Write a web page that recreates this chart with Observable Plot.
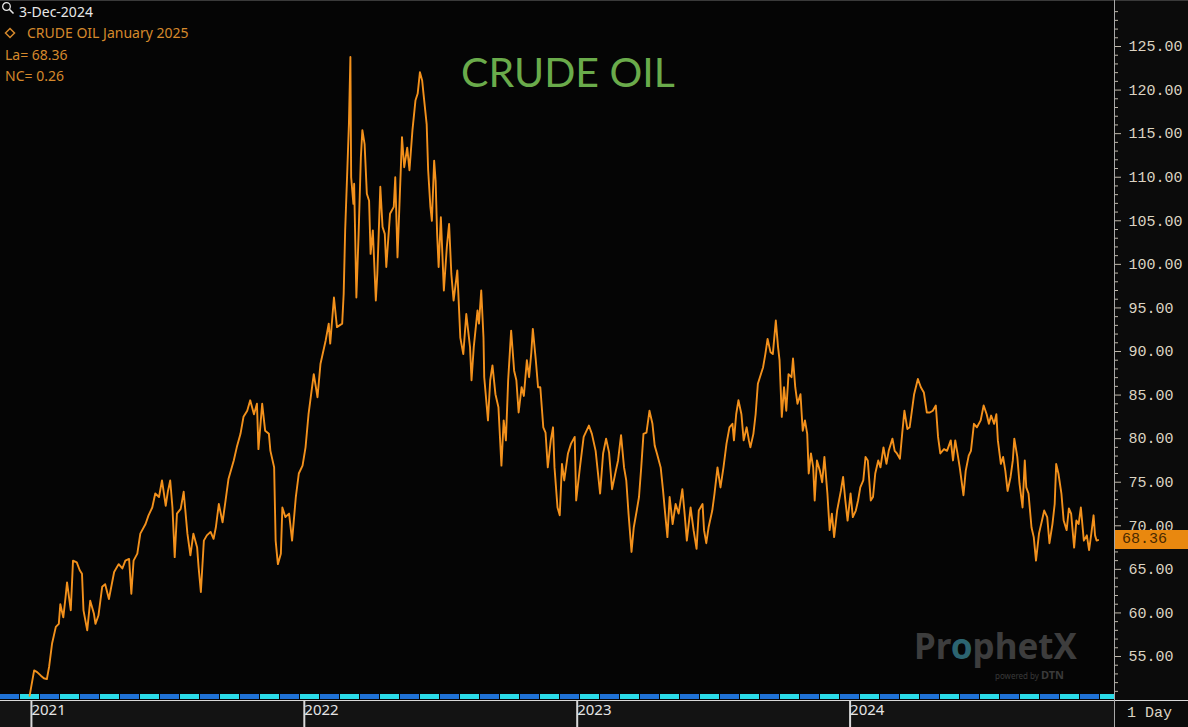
<!DOCTYPE html>
<html>
<head>
<meta charset="utf-8">
<script src="https://cdn.jsdelivr.net/npm/d3@7"></script>
<script src="https://cdn.jsdelivr.net/npm/@observablehq/plot@0.6"></script>
<style>
html,body{margin:0;padding:0;background:#000;overflow:hidden}
#wrap{position:relative;width:1188px;height:727px;background:#000;overflow:hidden}
.abs{position:absolute;white-space:nowrap}
.leg{font-family:"Noto Sans",sans-serif;font-size:14px;line-height:21px;color:#d6892c}
.mono{font-family:"Liberation Mono",monospace;font-size:15px}
</style>
</head>
<body>
<div id="wrap">
  <div class="abs" style="left:0;top:0;width:1114px;height:700px;background:#050505"></div>
  <div class="abs" style="left:0;top:701px;width:1114px;height:26px;background:#131313"></div>
  <div class="abs" style="left:1115px;top:0;width:73px;height:727px;background:#0b0b0b"></div>
  <div class="abs" style="left:0;top:0;width:1188px;height:1px;background:#3a3a3a"></div>
  <div class="abs" style="left:0;top:694px;width:1114px;height:5px;background:repeating-linear-gradient(90deg,#1f72d6 0 19px,#050505 19px 20px,#2adbe8 20px 39px,#050505 39px 40px)"></div>
  <div id="chart" class="abs" style="left:0;top:0"></div>
  <div class="abs" style="left:0;top:700px;width:1188px;height:1px;background:#d8d8d8"></div>
  <div class="abs" style="left:1114px;top:0;width:1px;height:727px;background:#a8a8a8"></div>

  <svg class="abs" style="left:1px;top:1px" width="14" height="14" viewBox="0 0 14 14">
    <circle cx="5.5" cy="5.5" r="3.8" fill="none" stroke="#e6e6e6" stroke-width="1.3"/>
    <line x1="8.3" y1="8.3" x2="12.5" y2="12.5" stroke="#e6e6e6" stroke-width="1.6"/>
  </svg>
  <div id="legDate" class="abs leg" style="left:19px;top:1px;color:#e8e8e8"></div>
  <svg class="abs" style="left:4px;top:27px" width="12" height="12" viewBox="0 0 12 12">
    <path d="M6 1.5 L10.5 6 L6 10.5 L1.5 6 Z" fill="none" stroke="#d6892c" stroke-width="1.5"/>
  </svg>
  <div id="legName" class="abs leg" style="left:27px;top:22px"></div>
  <div id="legLa" class="abs leg" style="left:5px;top:44px"></div>
  <div id="legNc" class="abs leg" style="left:5px;top:65px"></div>

  <div id="title" class="abs" style="left:0;width:1136px;top:51px;text-align:center;font-family:Lato,sans-serif;font-size:41px;line-height:41px;color:#6aab4b"></div>

  <div class="abs" style="left:914px;top:632px;font-family:'Noto Sans',sans-serif;font-weight:bold;font-size:35px;line-height:28px;color:#3d3d3d">Pr<span style="color:#2c6470">o</span>phetX</div>
  <div class="abs" style="left:995px;top:669px;font-family:'Noto Sans',sans-serif;font-size:8px;line-height:11px;color:#3a3a3a">powered by <span style="font-weight:bold;font-size:11px">DTN</span></div>

  <div id="lastBox" class="abs mono" style="left:1115px;width:73px;height:19px;line-height:19px;background:#e9880f;color:#4a2a00;padding-left:7px;box-sizing:border-box"></div>
  <div class="abs mono" style="left:1127px;top:704px;line-height:20px;color:#dcd4c4">1 Day</div>
</div>

<script>
// ---- Data ----
const dates2021 = ["2021-01-04","2021-01-10","2021-01-14","2021-01-19","2021-01-23","2021-01-27","2021-01-30","2021-02-03","2021-02-08","2021-02-12","2021-02-14","2021-02-18","2021-02-21","2021-02-23","2021-02-28","2021-03-03","2021-03-08","2021-03-12","2021-03-15","2021-03-17","2021-03-22","2021-03-26","2021-03-31","2021-04-02","2021-04-06","2021-04-11","2021-04-15","2021-04-20","2021-04-27","2021-05-03","2021-05-08","2021-05-12","2021-05-17","2021-05-20","2021-05-23","2021-05-28","2021-06-01","2021-06-08","2021-06-12","2021-06-17","2021-06-21","2021-06-26","2021-06-30","2021-07-05","2021-07-08","2021-07-11","2021-07-14","2021-07-17","2021-07-20","2021-07-25","2021-07-29","2021-08-03","2021-08-07","2021-08-11","2021-08-16","2021-08-18","2021-08-21","2021-08-25","2021-08-29","2021-09-03","2021-09-07","2021-09-10","2021-09-14","2021-09-19","2021-09-23","2021-09-27","2021-10-04","2021-10-08","2021-10-13","2021-10-17","2021-10-22","2021-10-26","2021-10-31","2021-11-04","2021-11-06","2021-11-11","2021-11-15","2021-11-20","2021-11-22","2021-11-27","2021-11-29","2021-12-02","2021-12-06","2021-12-08","2021-12-12","2021-12-17","2021-12-21","2021-12-26","2021-12-30"];
const prices2021 = [50.5,53.4,53.2,52.8,52.5,52.4,53.8,56.5,58.4,58.75,61.0,59.5,61.8,63.5,60.3,66.0,65.8,64.9,64.5,60.3,58.0,61.4,59.9,58.75,59.7,63.0,63.3,61.6,64.7,65.6,65.1,66.0,66.2,62.2,66.0,66.8,69.1,70.2,71.2,72.1,73.7,73.3,75.2,72.3,74.0,75.2,72.1,66.4,71.4,71.95,73.9,69.1,66.6,69.1,67.5,65.2,62.4,68.3,68.9,69.3,68.5,69.8,72.5,70.4,72.9,75.4,77.5,79.0,80.55,82.5,83.2,84.4,82.8,84.0,78.8,84.0,80.9,80.55,78.6,76.7,68.3,65.6,66.8,72.1,71.0,71.4,68.3,73.3,76.0];

const dates2022 = ["2022-01-04","2022-01-08","2022-01-12","2022-01-19","2022-01-24","2022-01-28","2022-02-04","2022-02-08","2022-02-10","2022-02-15","2022-02-19","2022-02-26","2022-02-28","2022-03-02","2022-03-05","2022-03-07","2022-03-09","2022-03-10","2022-03-13","2022-03-14","2022-03-17","2022-03-20","2022-03-23","2022-03-25","2022-03-28","2022-03-31","2022-04-03","2022-04-05","2022-04-08","2022-04-12","2022-04-14","2022-04-18","2022-04-21","2022-04-24","2022-04-26","2022-05-01","2022-05-06","2022-05-08","2022-05-11","2022-05-14","2022-05-17","2022-05-20","2022-05-24","2022-05-27","2022-05-31","2022-06-04","2022-06-07","2022-06-10","2022-06-13","2022-06-15","2022-06-19","2022-06-21","2022-06-24","2022-06-26","2022-06-29","2022-07-01","2022-07-03","2022-07-05","2022-07-08","2022-07-12","2022-07-16","2022-07-19","2022-07-22","2022-07-25","2022-07-30","2022-08-03","2022-08-07","2022-08-11","2022-08-16","2022-08-18","2022-08-21","2022-08-26","2022-08-28","2022-08-31","2022-09-03","2022-09-04","2022-09-09","2022-09-12","2022-09-15","2022-09-19","2022-09-23","2022-09-27","2022-09-30","2022-10-03","2022-10-06","2022-10-10","2022-10-14","2022-10-17","2022-10-20","2022-10-24","2022-10-27","2022-10-31","2022-11-03","2022-11-06","2022-11-08","2022-11-12","2022-11-15","2022-11-18","2022-11-22","2022-11-25","2022-11-28","2022-12-02","2022-12-05","2022-12-07","2022-12-11","2022-12-14","2022-12-17","2022-12-20","2022-12-25","2022-12-29"];
const prices2022 = [76.9,79.0,82.8,87.4,84.75,88.6,91.3,93.2,90.9,96.2,92.8,93.2,96.6,103.9,111.15,116.1,123.8,110.0,106.95,109.25,96.2,103.5,112.3,115.4,113.8,108.1,107.3,101.2,103.9,95.85,98.9,108.9,104.3,103.5,99.7,105.8,106.6,110.0,100.8,107.7,114.6,111.15,113.4,110.8,115.4,118.8,119.6,122.05,121.1,119.4,116.1,110.8,106.6,105.0,111.9,109.6,103.5,99.7,105.4,97.0,102.0,104.65,98.9,95.85,99.3,91.6,89.7,94.3,90.5,86.7,90.5,94.7,93.2,97.0,91.6,87.05,82.1,86.7,88.4,85.1,83.6,76.9,82.1,79.8,86.7,92.4,87.8,86.7,83.0,85.9,84.9,89.0,87.05,89.9,92.6,89.0,85.9,85.9,81.3,80.7,76.7,79.8,81.3,76.7,72.1,71.2,77.1,75.2,78.3,79.4];

const dates2023 = ["2023-01-03","2023-01-05","2023-01-10","2023-01-15","2023-01-22","2023-01-26","2023-01-31","2023-02-06","2023-02-10","2023-02-14","2023-02-18","2023-02-22","2023-02-27","2023-03-02","2023-03-06","2023-03-10","2023-03-13","2023-03-16","2023-03-20","2023-03-23","2023-03-27","2023-03-30","2023-04-02","2023-04-05","2023-04-09","2023-04-13","2023-04-17","2023-04-20","2023-04-23","2023-04-28","2023-05-01","2023-05-04","2023-05-07","2023-05-10","2023-05-14","2023-05-18","2023-05-22","2023-05-27","2023-05-30","2023-06-02","2023-06-07","2023-06-11","2023-06-15","2023-06-18","2023-06-23","2023-06-25","2023-06-28","2023-07-01","2023-07-06","2023-07-09","2023-07-13","2023-07-17","2023-07-21","2023-07-25","2023-07-29","2023-08-02","2023-08-04","2023-08-07","2023-08-10","2023-08-14","2023-08-17","2023-08-21","2023-08-24","2023-08-26","2023-08-30","2023-09-02","2023-09-05","2023-09-09","2023-09-12","2023-09-15","2023-09-18","2023-09-22","2023-09-25","2023-09-29","2023-10-02","2023-10-04","2023-10-07","2023-10-10","2023-10-13","2023-10-16","2023-10-20","2023-10-22","2023-10-25","2023-10-28","2023-11-01","2023-11-04","2023-11-07","2023-11-10","2023-11-12","2023-11-15","2023-11-18","2023-11-20","2023-11-23","2023-11-27","2023-11-30","2023-12-03","2023-12-07","2023-12-10","2023-12-13","2023-12-16","2023-12-20","2023-12-25","2023-12-28","2023-12-31"];
const prices2023 = [80.2,72.9,76.7,80.2,81.5,80.55,78.6,73.7,78.3,80.0,78.4,74.2,76.3,77.5,80.4,76.7,75.2,71.4,67.0,69.8,71.75,73.3,76.7,80.55,80.7,83.2,81.7,79.2,78.3,76.7,74.2,71.4,68.7,73.3,70.2,72.5,71.4,74.2,71.4,68.3,72.1,69.5,67.35,71.75,72.5,69.5,68.0,69.8,71.75,73.7,76.7,74.4,76.7,79.4,81.3,81.7,79.8,82.8,84.4,82.8,79.8,81.3,79.8,79.0,80.55,82.8,86.3,87.4,88.2,89.7,91.45,89.9,89.7,93.55,90.5,89.0,82.5,85.9,83.2,87.4,87.05,89.2,85.9,84.0,85.1,80.9,82.1,80.55,76.0,78.3,76.7,72.9,77.5,76.3,75.0,77.9,73.7,69.5,71.4,68.7,71.75,74.0,75.6,72.9];

const dates2024 = ["2024-01-03","2024-01-07","2024-01-10","2024-01-14","2024-01-17","2024-01-20","2024-01-24","2024-01-27","2024-01-30","2024-02-03","2024-02-06","2024-02-09","2024-02-13","2024-02-16","2024-02-20","2024-02-24","2024-02-27","2024-03-03","2024-03-06","2024-03-09","2024-03-13","2024-03-16","2024-03-19","2024-03-23","2024-03-26","2024-03-29","2024-04-01","2024-04-06","2024-04-10","2024-04-14","2024-04-18","2024-04-22","2024-04-26","2024-04-30","2024-05-03","2024-05-06","2024-05-11","2024-05-15","2024-05-20","2024-05-23","2024-05-26","2024-05-29","2024-06-01","2024-06-06","2024-06-09","2024-06-13","2024-06-16","2024-06-20","2024-06-24","2024-06-29","2024-07-03","2024-07-07","2024-07-10","2024-07-13","2024-07-17","2024-07-20","2024-07-22","2024-07-26","2024-07-29","2024-08-01","2024-08-04","2024-08-08","2024-08-11","2024-08-13","2024-08-17","2024-08-20","2024-08-24","2024-08-27","2024-08-29","2024-09-01","2024-09-05","2024-09-08","2024-09-11","2024-09-15","2024-09-19","2024-09-22","2024-09-26","2024-09-29","2024-10-03","2024-10-06","2024-10-08","2024-10-11","2024-10-15","2024-10-18","2024-10-22","2024-10-25","2024-10-28","2024-11-01","2024-11-04","2024-11-07","2024-11-10","2024-11-14","2024-11-18","2024-11-21","2024-11-24","2024-11-27","2024-11-29","2024-12-01","2024-12-03"];
const prices2024 = [70.6,73.7,71.0,71.75,72.9,74.4,75.2,77.9,77.5,72.9,73.3,76.0,77.5,76.7,79.0,77.1,78.6,80.0,78.6,78.3,77.7,80.55,83.2,81.1,81.3,83.2,85.1,86.85,85.9,85.3,83.0,83.0,83.2,83.8,80.2,78.3,78.8,78.6,79.8,77.5,79.8,78.3,76.7,73.5,76.3,78.05,78.6,81.7,81.3,82.1,83.8,82.8,81.7,82.65,81.7,82.8,79.8,77.1,77.9,76.3,74.0,75.6,77.5,80.0,77.9,74.8,72.1,77.5,74.4,73.7,69.8,68.7,66.0,69.1,70.6,71.75,71.0,68.0,70.2,72.5,77.1,76.0,73.7,70.6,69.5,72.0,71.4,67.5,70.6,70.2,72.1,68.3,68.9,67.2,69.1,71.2,68.9,68.3,68.36];

const yTickValues = [55,60,65,70,75,80,85,90,95,100,105,110,115,120,125];
const xTickYears = ["2021","2022","2023","2024"];

const titleText = "CRUDE OIL";
const legendDate = "3-Dec-2024";
const legendName = "CRUDE OIL January 2025";
const lastValue = 68.36;
const netChange = 0.26;

// ---- Build ----
const parse = d3.utcParse("%Y-%m-%d");
const series = [
  [dates2021, prices2021], [dates2022, prices2022],
  [dates2023, prices2023], [dates2024, prices2024]
].flatMap(([ds, ps]) => ds.map((d, i) => ({date: parse(d), price: ps[i]})));

const minorTicks = d3.range(51, 131).filter(v => v % 5 !== 0);
const yearTicks = xTickYears.map(y => parse(y + "-01-01"));

const chart = Plot.plot({
  width: 1188,
  height: 727,
  marginLeft: 0,
  marginRight: 74,
  marginTop: 0,
  marginBottom: 27,
  style: {background: "transparent", color: "#d8d8d8", overflow: "visible"},
  x: {type: "utc", domain: [parse("2020-11-26"), parse("2024-12-25")], label: null},
  y: {domain: [49.95, 130.28], label: null},
  marks: [
    Plot.axisY(minorTicks, {anchor: "right", tickSize: 3, tickFormat: () => "", stroke: "#bfb8aa", label: null}),
    Plot.axisY(yTickValues, {
      anchor: "right", tickSize: 6, tickPadding: 8, label: null,
      tickFormat: d => d.toFixed(2),
      fontFamily: "Liberation Mono", fontSize: 15,
      fill: "#dcd3c2", stroke: "#bfb8aa"
    }),
    Plot.axisX(yearTicks, {
      anchor: "bottom", tickSize: 27, tickPadding: -23, dx: 4, label: null,
      textAnchor: "start", tickFormat: d3.utcFormat("%Y"),
      fontFamily: "Noto Sans", fontSize: 15,
      fill: "#e4e4e4", stroke: "#d8d8d8", strokeWidth: 2
    }),
    Plot.lineY(series, {x: "date", y: "price", stroke: "#f3911c", strokeWidth: 1.9})
  ]
});
document.getElementById("chart").appendChild(chart);

// overlays
document.getElementById("title").textContent = titleText;
document.getElementById("legDate").textContent = legendDate;
document.getElementById("legName").textContent = legendName;
document.getElementById("legLa").textContent = "La= " + lastValue.toFixed(2);
document.getElementById("legNc").textContent = "NC= " + netChange.toFixed(2);
const box = document.getElementById("lastBox");
box.textContent = lastValue.toFixed(2);
box.style.top = (chart.scale("y").apply(lastValue) - 9.5) + "px";
</script>
</body>
</html>
